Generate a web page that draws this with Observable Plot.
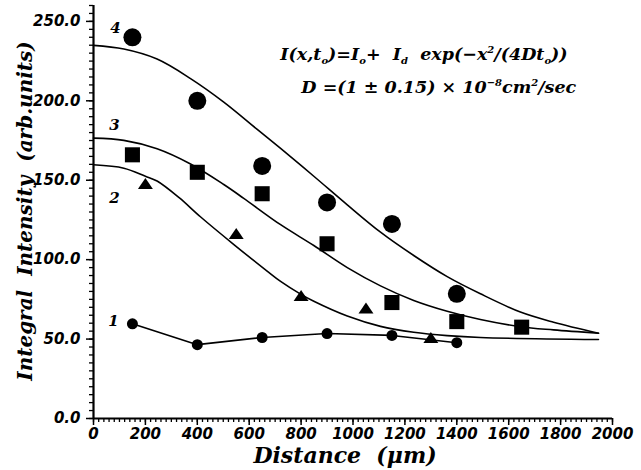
<!DOCTYPE html>
<html>
<head>
<meta charset="utf-8">
<script src="https://cdn.jsdelivr.net/npm/d3@7"></script>
<script src="https://cdn.jsdelivr.net/npm/@observablehq/plot@0.6"></script>
<style>
  html, body { margin: 0; padding: 0; background: #fff; }
</style>
</head>
<body>
<div id="chart"></div>
<script>
// ---- data ----
// series 1 (small circles, joined by a line)
const s1x = [150, 400, 650, 900, 1150, 1400];
const s1y = [59.6, 46.5, 51, 53.5, 52.3, 47.7];
// series 2 (triangles)
const s2x = [200, 550, 800, 1050, 1300];
const s2y = [148, 116.5, 77.5, 69.5, 51];
// series 3 (squares)
const s3x = [150, 400, 650, 900, 1150, 1400, 1650];
const s3y = [166, 155, 141.5, 110, 73, 61, 57.5];
// series 4 (large circles)
const s4x = [150, 400, 650, 900, 1150, 1400];
const s4y = [240, 200, 159, 136, 122.5, 78.5];

// fitted curves, points
const fit2x = [0, 117, 200, 245, 330, 412, 541, 669, 721, 798, 849, 978, 1106, 1234, 1363, 1491, 1946];
const fit2y = [159.7, 157.6, 152.5, 149.5, 139, 127, 109.5, 92.8, 86.3, 78.3, 73.8, 64.5, 58, 54.3, 52.2, 51, 49.7];
const fit3x = [0, 117, 245, 374, 502, 579, 721, 849, 978, 1106, 1234, 1363, 1491, 1645, 1773, 1946];
const fit3y = [176.5, 175.1, 169.8, 160.2, 147.3, 138.6, 122, 108.9, 95, 83.5, 74.3, 67.5, 62.3, 57.8, 55.8, 53.7];
const fit4x = [0, 117, 245, 374, 502, 631, 721, 849, 978, 1106, 1234, 1363, 1491, 1645, 1773, 1946];
const fit4y = [234.9, 232.6, 226.3, 214, 199.2, 182, 170, 152.5, 134.5, 117.3, 102.6, 89.3, 78.5, 67, 60.6, 53.7];

// tick values
const xTicks = [0, 200, 400, 600, 800, 1000, 1200, 1400, 1600, 1800, 2000];
const yTicks = [0, 50, 100, 150, 200, 250];
const xMinor = d3.range(0, 2001, 20);
const yMinor = d3.range(0, 261, 5);

// curve number labels
const numText = ["1", "2", "3", "4"];
const numX = [77, 81, 81, 85];
const numY = [61, 139, 184.5, 246];

// equation annotation
const eqText = ["I(x,t_{o})=I_{o}+  I_{d}  exp(\u2212x^{2}/(4Dt_{o}))", "D =(1 \u00b1 0.15) \u00d7 10^{\u22128}cm^{2}/sec"];
const eqX = [720, 801];
const eqY = [229.5, 208.5];

const zip = (xs, ys) => xs.map((x, i) => ({x, y: ys[i]}));
const S1 = zip(s1x, s1y), S2 = zip(s2x, s2y), S3 = zip(s3x, s3y), S4 = zip(s4x, s4y);
const F2 = zip(fit2x, fit2y), F3 = zip(fit3x, fit3y), F4 = zip(fit4x, fit4y);
const NUM = numText.map((t, i) => ({t, x: numX[i], y: numY[i]}));
const EQ = eqText.map((t, i) => ({t, x: eqX[i], y: eqY[i]}));

const serif = "DejaVu Serif";
const sans = "DejaVu Sans";

// flattened triangle symbol
const tri = {
  draw(ctx, size) {
    const r = Math.sqrt(size / Math.PI);
    const hw = r * 1.36, h = r;
    ctx.moveTo(0, -h);
    ctx.lineTo(hw, h);
    ctx.lineTo(-hw, h);
    ctx.closePath();
  }
};

const svg = Plot.plot({
  width: 641,
  height: 470,
  marginLeft: 93,
  marginRight: 29,
  marginTop: 5,
  marginBottom: 52,
  style: {background: "white", color: "black", fontFamily: sans, fontWeight: "bold", fontStyle: "italic", fontSize: "15px"},
  x: {domain: [0, 2000]},
  y: {domain: [0, 260]},
  marks: [
    Plot.axisX(xMinor, {tickSize: 4, tickFormat: () => "", label: null, strokeWidth: 1.3}),
    Plot.axisX(xTicks, {tickSize: 7, tickPadding: 3, tickFormat: d3.format("d"), label: null, strokeWidth: 1.5, fontSize: 15}),
    Plot.axisY(yMinor, {tickSize: 4, tickFormat: () => "", label: null, strokeWidth: 1.3}),
    Plot.axisY(yTicks, {tickSize: 7, tickPadding: 6, tickFormat: d3.format(".1f"), label: null, strokeWidth: 1.5, fontSize: 15}),
    Plot.ruleX([0], {strokeWidth: 2.2}),
    Plot.ruleY([0], {strokeWidth: 2.2}),
    Plot.line(F2, {x: "x", y: "y", curve: "catmull-rom", strokeWidth: 1.6}),
    Plot.line(F3, {x: "x", y: "y", curve: "catmull-rom", strokeWidth: 1.6}),
    Plot.line(F4, {x: "x", y: "y", curve: "catmull-rom", strokeWidth: 1.6}),
    Plot.line(S1, {x: "x", y: "y", strokeWidth: 1.6}),
    Plot.dot(S1, {x: "x", y: "y", r: 5.5, fill: "black"}),
    Plot.dot(S2, {x: "x", y: "y", r: 5.5, symbol: tri, fill: "black"}),
    Plot.dot(S3, {x: "x", y: "y", r: 8.5, symbol: "square", fill: "black"}),
    Plot.dot(S4, {x: "x", y: "y", r: 9, fill: "black"}),
    Plot.text(NUM, {x: "x", y: "y", text: "t", fontFamily: serif, fontSize: 15}),
    Plot.text(EQ, {x: "x", y: "y", text: "t", textAnchor: "start", fontFamily: serif, fontSize: 17.5}),
    Plot.text(["Distance\u00a0 (\u03bcm)"], {frameAnchor: "bottom", dy: 44, dx: -8, lineAnchor: "bottom", fontFamily: serif, fontSize: 22}),
    Plot.text(["Integral\u00a0 Intensity\u00a0 (arb.units)"], {frameAnchor: "left", textAnchor: "middle", rotate: -90, dx: -68, dy: -1, fontFamily: serif, fontSize: 20})
  ]
});

// bold italic for every text
svg.querySelectorAll("text").forEach(el => {
  el.setAttribute("font-style", "italic");
  el.setAttribute("font-weight", "bold");
  el.style.fontStyle = "italic";
  el.style.fontWeight = "bold";
});

// render sub/superscripts of the equation as tspans
svg.querySelectorAll("text").forEach(el => {
  const s = el.textContent;
  if (!/[_^]\{/.test(s)) return;
  const re = /([_^])\{([^}]*)\}/g;
  const parts = [];
  let last = 0, m;
  while ((m = re.exec(s))) {
    if (m.index > last) parts.push({k: "n", t: s.slice(last, m.index)});
    parts.push({k: m[1] === "_" ? "sub" : "sup", t: m[2]});
    last = re.lastIndex;
  }
  if (last < s.length) parts.push({k: "n", t: s.slice(last)});
  while (el.firstChild) el.removeChild(el.firstChild);
  el.setAttribute("xml:space", "preserve");
  el.style.whiteSpace = "pre";
  let shift = 0;
  for (const p of parts) {
    const ts = document.createElementNS("http://www.w3.org/2000/svg", "tspan");
    const target = p.k === "sub" ? 4 : p.k === "sup" ? -7 : 0;
    ts.setAttribute("dy", target - shift);
    shift = target;
    if (p.k !== "n") ts.setAttribute("font-size", "10px");
    ts.textContent = p.t;
    el.appendChild(ts);
  }
});

document.getElementById("chart").appendChild(svg);
</script>
</body>
</html>
